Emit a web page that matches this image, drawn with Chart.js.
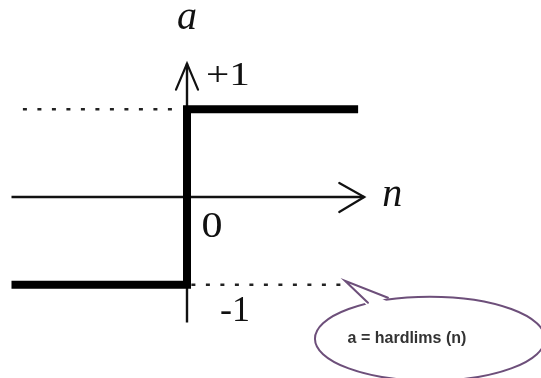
<!DOCTYPE html>
<html lang="pt-BR">
<head>
<meta charset="utf-8">
<title>hardlims</title>
<script src="https://cdn.jsdelivr.net/npm/chart.js@4.4.1/dist/chart.umd.min.js"></script>
<style>
    html, body { margin: 0; padding: 0; background: #ffffff; }
    #caixa { position: relative; width: 541px; height: 378px; }
</style>
</head>
<body>
<div id="caixa"><canvas id="graficoHardlims"></canvas></div>
<script>
// DADOS DA FUNÇÃO DEGRAU SIMÉTRICO
const entradaN = [-2, 0, 0, 1.95];
const saidaA = [-1, -1, 1, 1];

// EXTENSÃO DOS EIXOS
const eixoN = [-2, 2.02];
const eixoA = [-1.43, 1.52];

// LINHAS PONTILHADAS (+1 e -1)
const guiaSuperiorN = [-1.87, -0.12];
const guiaInferiorN = [0.05, 1.8];

// RÓTULOS
const rotuloTopo = "+1";
const rotuloZero = "0";
const rotuloBase = "-1";
const nomeEixoA = "a";
const nomeEixoN = "n";
const textoBalao = "a = hardlims (n)";


// MONTA PARES {x, y}
function pares(xs, ys) {
    return xs.map((x, i) => ({ x: x, y: ys[i] }));
}


// ESCREVE TEXTO ESTICADO NA HORIZONTAL
function textoLargo(ctx, texto, x, y, largura) {
    ctx.save();
    ctx.translate(x, y);
    ctx.scale(largura, 1);
    ctx.fillText(texto, 0, 0);
    ctx.restore();
}


// DESENHA SETAS, TEXTOS E BALÃO
const anotacoes = {

    id: "anotacoes",

    afterDatasetsDraw(chart) {

        const ctx = chart.ctx;
        const sx = chart.scales.x;
        const sy = chart.scales.y;

        const px = (v) => sx.getPixelForValue(v);
        const py = (v) => sy.getPixelForValue(v);

        ctx.save();

        // SETAS ABERTAS
        ctx.strokeStyle = "#111111";
        ctx.lineWidth = 2.2;
        ctx.lineCap = "round";
        ctx.lineJoin = "miter";

        const topo = { x: px(0), y: py(eixoA[1]) };
        ctx.beginPath();
        ctx.moveTo(topo.x - 11, topo.y + 26);
        ctx.lineTo(topo.x, topo.y);
        ctx.lineTo(topo.x + 11, topo.y + 26);
        ctx.stroke();

        const ponta = { x: px(eixoN[1]), y: py(0) };
        ctx.beginPath();
        ctx.moveTo(ponta.x - 25, ponta.y - 14);
        ctx.lineTo(ponta.x, ponta.y);
        ctx.lineTo(ponta.x - 25, ponta.y + 15);
        ctx.stroke();

        // TEXTOS DOS EIXOS
        ctx.fillStyle = "#111111";
        ctx.textAlign = "center";
        ctx.textBaseline = "alphabetic";

        ctx.font = "italic 40px 'Liberation Serif'";
        ctx.fillText(nomeEixoA, topo.x, topo.y - 35);
        ctx.fillText(nomeEixoN, ponta.x + 28, ponta.y + 9);

        ctx.font = "33px 'Liberation Serif'";
        textoLargo(ctx, rotuloTopo, px(0) + 41, py(1) - 24, 1.25);

        ctx.font = "35px 'Liberation Serif'";
        textoLargo(ctx, rotuloZero, px(0) + 25, py(0) + 40, 1.2);

        ctx.font = "36px 'Liberation Serif'";
        ctx.fillText(rotuloBase, px(0) + 48, py(-1) + 36);

        // BALÃO
        const bico = { x: px(guiaInferiorN[1]), y: py(-1) - 4 };
        const cx = bico.x + 85;
        const cy = bico.y + 58;

        ctx.strokeStyle = "#6d4f7a";
        ctx.lineWidth = 2;
        ctx.fillStyle = "#ffffff";

        ctx.beginPath();
        ctx.ellipse(cx, cy, 115, 42, 0, 0, Math.PI * 2);
        ctx.fill();
        ctx.stroke();

        // Cobre o trecho da elipse sob o bico
        ctx.beginPath();
        ctx.moveTo(bico.x, bico.y);
        ctx.lineTo(bico.x + 23, bico.y + 26);
        ctx.lineTo(bico.x + 43, bico.y + 21);
        ctx.closePath();
        ctx.fill();

        ctx.beginPath();
        ctx.moveTo(bico.x + 23, bico.y + 22);
        ctx.lineTo(bico.x, bico.y);
        ctx.lineTo(bico.x + 43, bico.y + 17);
        ctx.stroke();

        ctx.fillStyle = "#333333";
        ctx.font = "bold 16px 'Liberation Sans'";
        ctx.textBaseline = "middle";
        ctx.fillText(textoBalao, cx - 23, cy);

        ctx.restore();
    },
};


// CRIA GRÁFICO
function criarGrafico() {

    const canvas = document.getElementById("graficoHardlims");

    if (!canvas || typeof Chart === "undefined")
        return;

    new Chart(canvas, {

        type: "scatter",

        data: {

            datasets: [

                // DEGRAU
                {
                    data: pares(entradaN, saidaA),
                    showLine: true,
                    borderColor: "#000000",
                    borderWidth: 8,
                    borderCapStyle: "butt",
                    borderJoinStyle: "miter",
                    pointRadius: 0,
                    order: 0,
                },

                // EIXO N
                {
                    data: pares(eixoN, [0, 0]),
                    showLine: true,
                    borderColor: "#111111",
                    borderWidth: 2.4,
                    pointRadius: 0,
                    order: 2,
                },

                // EIXO A
                {
                    data: pares([0, 0], eixoA),
                    showLine: true,
                    borderColor: "#111111",
                    borderWidth: 2.4,
                    pointRadius: 0,
                    order: 2,
                },

                // PONTILHADO +1
                {
                    data: pares(guiaSuperiorN, [1, 1]),
                    showLine: true,
                    borderColor: "#222222",
                    borderWidth: 2.5,
                    borderDash: [4, 10.5],
                    pointRadius: 0,
                    order: 3,
                },

                // PONTILHADO -1
                {
                    data: pares(guiaInferiorN, [-1, -1]),
                    showLine: true,
                    borderColor: "#222222",
                    borderWidth: 2.5,
                    borderDash: [4, 10.5],
                    pointRadius: 0,
                    order: 3,
                },
            ],
        },

        options: {

            responsive: true,

            maintainAspectRatio: false,

            animation: false,

            layout: { padding: 0 },

            plugins: {
                legend: { display: false },
                tooltip: { enabled: false },
            },

            scales: {

                x: {
                    type: "linear",
                    display: false,
                    min: -2.131,
                    max: 4.034,
                },

                y: {
                    type: "linear",
                    display: false,
                    min: -2.063,
                    max: 2.245,
                },
            },
        },

        plugins: [anotacoes],
    });
}


document.addEventListener("DOMContentLoaded", criarGrafico);
</script>
</body>
</html>
